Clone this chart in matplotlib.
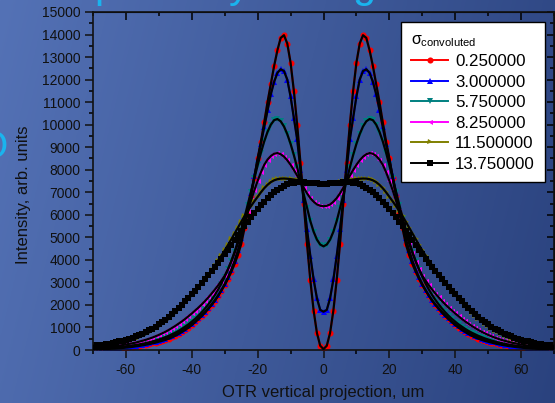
import numpy as np
import matplotlib
matplotlib.use('Agg')
import matplotlib.pyplot as plt
from matplotlib.ticker import MultipleLocator

plt.rcParams['font.family'] = ['Liberation Sans', 'DejaVu Sans']
plt.rcParams['mathtext.fontset'] = 'custom'
plt.rcParams['mathtext.rm'] = 'Liberation Sans'
plt.rcParams['mathtext.it'] = 'Liberation Sans'
plt.rcParams['axes.unicode_minus'] = False

# profiles are symmetric about 0, values read for x = 0..70 um
x_half = np.arange(0, 71)
labels = ['0.250000', '3.000000', '5.750000', '8.250000', '11.500000', '13.750000']

red = [40, 190, 760, 1750, 3100, 4700, 6500, 8300, 10000, 11500,
       12750, 13600, 13970, 13850, 13300, 12600, 11800, 11000, 10100, 9250,
       8500, 7650, 6850, 6100, 5400, 4700, 4220, 3820, 3470, 3160,
       2880, 2640, 2400, 2180, 1990, 1820, 1650, 1500, 1360, 1230,
       1100, 990, 890, 800, 710, 630, 560, 500, 450, 405,
       365, 325, 290, 260, 230, 205, 180, 160, 140, 120,
       105, 92, 80, 70, 62, 54, 47, 41, 36, 32, 28]
blue = [1700, 1780, 2300, 3130, 4170, 5350, 6650, 8000, 9350, 10300,
        11250, 12000, 12380, 12460, 12300, 11900, 11350, 10650, 9900, 9150,
        8450, 7720, 6980, 6250, 5570, 4950, 4420, 3960, 3570, 3230,
        2930, 2660, 2420, 2210, 2020, 1850, 1690, 1540, 1400, 1270,
        1160, 1050, 950, 860, 775, 700, 630, 565, 510, 460,
        415, 372, 334, 300, 268, 240, 215, 192, 171, 153,
        137, 122, 108, 96, 85, 76, 67, 60, 53, 47, 42]
teal = [4600, 4680, 4900, 5250, 5720, 6280, 6880, 7500, 8100, 8650,
        9150, 9580, 9920, 10150, 10250, 10200, 10000, 9680, 9260, 8760,
        8200, 7620, 7030, 6450, 5880, 5330, 4820, 4360, 3950, 3580,
        3250, 2950, 2680, 2440, 2220, 2020, 1840, 1670, 1520, 1380,
        1260, 1140, 1040, 940, 850, 770, 700, 630, 570, 515,
        465, 420, 378, 340, 306, 275, 248, 222, 200, 180,
        162, 145, 130, 117, 105, 94, 84, 75, 67, 60, 54]
magenta = [6380, 6400, 6460, 6580, 6740, 6950, 7200, 7470, 7740, 7990,
           8220, 8420, 8580, 8690, 8740, 8710, 8610, 8450, 8220, 7890,
           7510, 7090, 6640, 6170, 5690, 5200, 4730, 4300, 3920, 3590,
           3300, 3080, 2870, 2680, 2500, 2330, 2170, 2020, 1880, 1750,
           1620, 1500, 1380, 1270, 1170, 1070, 980, 890, 810, 740,
           670, 610, 550, 500, 450, 410, 370, 330, 300, 270,
           245, 220, 197, 177, 158, 142, 127, 114, 102, 92, 82]
olive = [7380, 7382, 7390, 7405, 7425, 7450, 7480, 7510, 7540, 7565,
         7585, 7600, 7610, 7605, 7580, 7530, 7450, 7330, 7180, 7000,
         6800, 6600, 6390, 6170, 5940, 5690, 5430, 5170, 4910, 4660,
         4420, 4190, 3970, 3750, 3540, 3340, 3150, 2960, 2780, 2610,
         2440, 2280, 2120, 1960, 1810, 1660, 1520, 1390, 1270, 1160,
         1050, 950, 860, 780, 700, 630, 570, 510, 460, 415,
         375, 338, 304, 273, 245, 220, 198, 178, 160, 144, 130]
black = [7380, 7382, 7390, 7400, 7415, 7430, 7440, 7445, 7440, 7425,
         7395, 7350, 7290, 7210, 7110, 7000, 6880, 6740, 6590, 6430,
         6260, 6080, 5890, 5690, 5490, 5290, 5090, 4880, 4640, 4440,
         4250, 4060, 3880, 3700, 3520, 3340, 3160, 2980, 2810, 2640,
         2480, 2320, 2160, 2010, 1870, 1730, 1600, 1470, 1350, 1240,
         1135, 1040, 950, 870, 795, 725, 660, 600, 548, 500,
         456, 416, 380, 346, 316, 288, 263, 240, 220, 202, 186]

series = [red, blue, teal, magenta, olive, black]
colors = ['#ff0000', '#0000ff', '#008080', '#ff00ff', '#808000', '#000000']
markers = ['o', '^', 'v', '<', '>', 's']
msizes = [4.4, 4.6, 3.8, 3.6, 3.6, 4.2]


def mirror(h):
    h = np.asarray(h, dtype=float)
    return np.concatenate([h[:0:-1], h])


x = np.concatenate([-x_half[:0:-1], x_half])

fig = plt.figure(figsize=(5.55, 4.03), dpi=100)

# slide background
bg = fig.add_axes([0, 0, 1, 1], zorder=-1)
u = np.linspace(0, 1, 300)[None, :]
v = np.linspace(0, 1, 200)[:, None]
t = np.clip(0.85 * u + 0.15 * v, 0, 1)[..., None]
c0 = np.array([84, 114, 182]) / 255
c1 = np.array([42, 66, 126]) / 255
bg.imshow(c0 * (1 - t) + c1 * t, aspect='auto', extent=[0, 1, 0, 1])
bg.axis('off')

# bits of the slide title peeking out above the chart
cyan = '#1ab4ee'
fig.text(94 / 555, 1 + 3 / 403, 'p', fontsize=30, color=cyan, va='baseline')
fig.text(229 / 555, 1 + 3 / 403, 'y', fontsize=30, color=cyan, va='baseline')
fig.text(352 / 555, 1 + 3 / 403, 'g', fontsize=30, color=cyan, va='baseline')
fig.text(7 / 555, 1 - 148 / 403, 'O', fontsize=28, color=cyan, ha='right', va='center')

ax = fig.add_axes([93 / 555, 1 - 350 / 403, 461 / 555, 338 / 403], zorder=1)
ax.patch.set_alpha(0)

for y, c, m, ms, lab in zip(series, colors, markers, msizes, labels):
    ax.plot(x, mirror(y), color=c, marker=m, ms=ms, mew=0, lw=1.4, label=lab, zorder=2)
for y in series:
    ax.plot(x, mirror(y), color='black', lw=1.6, zorder=3)

ax.set_xlim(-70, 70)
ax.set_ylim(0, 15000)
ax.xaxis.set_major_locator(MultipleLocator(20))
ax.xaxis.set_minor_locator(MultipleLocator(10))
ax.yaxis.set_major_locator(MultipleLocator(1000))
ax.yaxis.set_minor_locator(MultipleLocator(500))
ax.tick_params(which='major', direction='out', length=6, width=1.1, labelsize=10,
               colors='#111111', pad=3)
ax.tick_params(which='minor', direction='out', length=3, width=1.1)
for s in ax.spines.values():
    s.set_linewidth(1.2)
    s.set_color('#111111')

top = ax.secondary_xaxis('top')
top.xaxis.set_major_locator(MultipleLocator(20))
top.xaxis.set_minor_locator(MultipleLocator(10))
top.tick_params(which='major', direction='in', length=6, width=1.1, labeltop=False)
top.tick_params(which='minor', direction='in', length=3, width=1.1)
right = ax.secondary_yaxis('right')
right.yaxis.set_major_locator(MultipleLocator(1000))
right.yaxis.set_minor_locator(MultipleLocator(500))
right.tick_params(which='major', direction='in', length=5, width=1.1, labelright=False)
right.tick_params(which='minor', direction='in', length=3, width=1.1)

ax.set_xlabel('OTR vertical projection, um', fontsize=12, color='#111111')
ax.set_ylabel('Intensity, arb. units', fontsize=12, color='#111111')
ax.xaxis.set_label_coords(0.5, -0.103)
ax.yaxis.set_label_coords(-0.135, 0.46)

leg = ax.legend(loc='upper right', bbox_to_anchor=(0.9805, 0.970), borderaxespad=0,
                title=r'$\sigma_{\mathrm{convoluted}}$', title_fontsize=11.5,
                fontsize=12.2, alignment='left', handlelength=2.2,
                labelspacing=0.32, handletextpad=0.4, borderpad=0.6,
                fancybox=False, framealpha=1, edgecolor='black')
leg.get_frame().set_linewidth(1.0)

fig.savefig('out.png', dpi=100)
